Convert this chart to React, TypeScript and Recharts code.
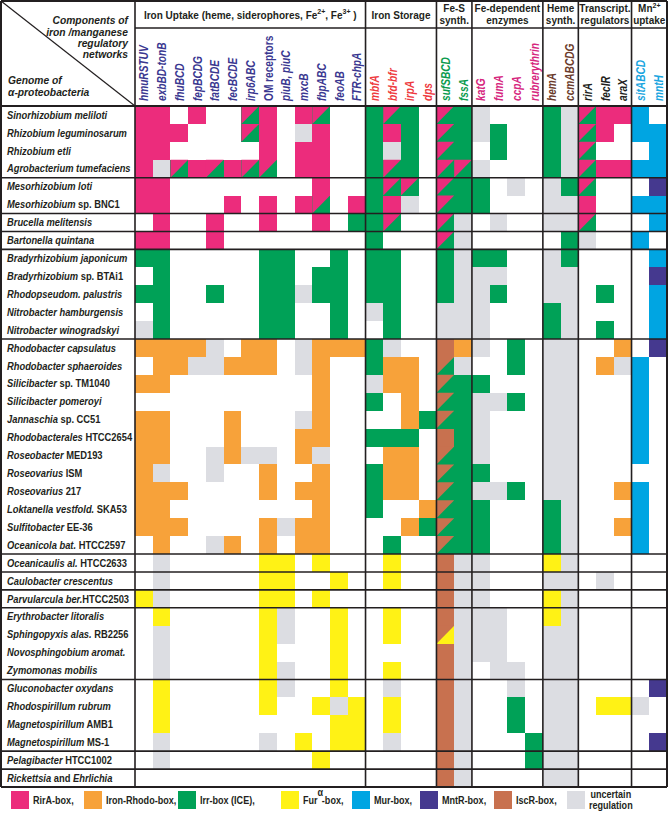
import { ReferenceLine, Scatter, ScatterChart, XAxis, YAxis } from "recharts";

// ---- data -----------------------------------------------------------------

/** Genome names; text between asterisks is set in italics. */
const GENOMES = [
  "*Sinorhizobium meliloti*",
  "*Rhizobium leguminosarum*",
  "*Rhizobium etli*",
  "*Agrobacterium tumefaciens*",
  "*Mesorhizobium loti*",
  "*Mesorhizobium* sp. BNC1",
  "*Brucella melitensis*",
  "*Bartonella quintana*",
  "*Bradyrhizobium japonicum*",
  "*Bradyrhizobium* sp. BTAi1",
  "*Rhodopseudom. palustris*",
  "*Nitrobacter hamburgensis*",
  "*Nitrobacter winogradskyi*",
  "*Rhodobacter capsulatus*",
  "*Rhodobacter sphaeroides*",
  "*Silicibacter* sp. TM1040",
  "*Silicibacter pomeroyi*",
  "*Jannaschia* sp. CC51",
  "*Rhodobacterales* HTCC2654",
  "*Roseobacter* MED193",
  "*Roseovarius* ISM",
  "*Roseovarius* 217",
  "*Loktanella vestfold.* SKA53",
  "*Sulfitobacter* EE-36",
  "*Oceanicola bat.* HTCC2597",
  "*Oceanicaulis al.* HTCC2633",
  "*Caulobacter crescentus*",
  "*Parvularcula ber.*HTCC2503",
  "*Erythrobacter litoralis*",
  "*Sphingopyxis alas.* RB2256",
  "*Novosphingobium aromat.*",
  "*Zymomonas mobilis*",
  "*Gluconobacter oxydans*",
  "*Rhodospirillum rubrum*",
  "*Magnetospirillum* AMB1",
  "*Magnetospirillum* MS-1",
  "*Pelagibacter* HTCC1002",
  "*Rickettsia* and *Ehrlichia*",
];

/** Genome blocks separated by horizontal rules. */
const GENOME_GROUP_SIZES = [4, 2, 1, 1, 5, 12, 1, 1, 1, 4, 4, 1, 1];

const GENES = [
  "hmuRSTUV", "exbBD-tonB", "fhuBCD", "fepBCDG", "fatBCDE", "fecBCDE",
  "irp6ABC", "OM receptors", "piuB, piuC", "mxcB", "fbpABC", "feoAB",
  "FTR-chpA",
  "mbfA", "bfd-bfr", "irpA", "dps",
  "sufSBCD", "fssA",
  "katG", "fumA", "ccpA", "rubrerythrin",
  "hemA", "ccmABCDG",
  "rirA", "fecIR", "araX",
  "sitABCD", "mntH",
];
const UPRIGHT_GENES = ["OM receptors"];

const GENE_GROUP_SIZES = [13, 4, 2, 4, 2, 3, 2];
/** {..} marks a superscript. */
const GENE_GROUP_TITLES = [
  ["Iron Uptake (heme, siderophores, Fe{2+}, Fe{3+} )"],
  ["Iron Storage"],
  ["Fe-S", "synth."],
  ["Fe-dependent", "enzymes"],
  ["Heme", "synth."],
  ["Transcript.", "regulators"],
  ["Mn{2+}", "uptake"],
];
const GENE_GROUP_COLORS = ["#3a3790", "#ee3a3e", "#0b9b4d", "#d6267e", "#6b3b2b", "#231f20", "#1aa5e0"];

/*
 * One string per genome, one token per gene column ('|' only splits groups).
 * r RirA, o Iron-Rhodo, g Irr, y Fur, b Mur, m MntR, i IscR, u uncertain,
 * '.' none. Two letters = diagonal split (upper-left, lower-right).
 */
const CELLS = [
  "r r . r . . rg r . r rg . . | g rg g . | rg g | u . . . | g u | rg r r | b .",
  "r r r . . . rg r . u r . . | g r g . | rg g | u g . . | g u | rg r . | b b",
  "r r . . . . . r . r r . . | g u g . | rg g | . g . . | g u | rg . . | . b",
  "r u rg r rg r rg rg . r r . . | g rg g . | rg rg | u . . . | g u | rg r r | b b",
  "r r . . . . . . . . r . . | g rg rg . | rg g | g . u . | u g | rg . . | . m",
  "r r . . . r . r . r rg . r | g r u . | rg g | g . . . | u u | r . . | b b",
  ". r . . r . . r . . r . g | g rg . . | rg u | . u . . | u u | rg . . | . b",
  "r r . . r . . . . . . . . | g . . . | rg u | . . . . | . g | u . . | b .",
  "g g . . . . . g g . . g . | g g . . | g u | g g . . | u g | . . . | . b",
  ". g . . . . . g g . g g . | g g . . | g u | u u . . | u u | . . . | . m",
  "g g . . g . . g g u g g . | g g . . | g u | u g . . | u u | . g . | . b",
  ". g . . . . . g g . . g . | u g . . | u u | u . . . | g u | . . . | . b",
  "u g . . . . . g g . . g . | . g . . | u u | u . . . | g u | . g . | . b",
  "o o o o u . o o . u o o o | g u . . | i o | u . g . | u u | . . o | . m",
  ". o o u u o o o . u o . . | g o o . | ig u | . . g . | u u | . o u | b .",
  "o o . . . . . . . . o . . | u o o . | ig g | g . . . | u u | . . . | b .",
  ". . . . . . . . . . o . . | g . o . | ig g | u u g . | u u | . . . | b .",
  "o o . . . o . . . u o . . | . . o g | ig g | u . . . | u u | . . . | b .",
  "o o . . . o . . . o o . . | g g g . | i g | u . . . | u u | . . . | b .",
  "o o . . u o u u . o u . . | . o o . | ig g | u . . . | u u | . . . | b .",
  "o u . . u . . o . . o . . | g o o . | ig g | g . . . | u u | . . . | . .",
  "o o o . . . . o . o o . . | g o o . | ig g | u u g . | u u | . . o | b .",
  "o o . . . . . . . . o . . | g . . o | ig g | g . . . | g u | . . . | b .",
  "o o o . . . . o u o o . . | . . o g | ig g | g . . . | g u | . . o | b .",
  ". o . . u o . o . o o . . | . g . . | ig g | g . . . | g u | . . . | b .",
  ". u . . . . . y y . y . . | . y . . | i u | u . . . | y u | . . . | . .",
  ". u . . . . . y y . . y . | . y . . | i u | u . . . | u u | . u . | . .",
  "y u . . . . . y y . y . . | . . . . | i u | u . . . | y u | . . . | . .",
  ". y . . . . . y u . . y . | . y . . | i u | u u . . | y u | . . . | . .",
  ". u . . . . . y u . . y . | . y . . | iy u | u u . . | u u | . . . | . .",
  ". u . . . . . y . . . y . | . . . . | i u | u u . . | u u | . . . | . .",
  ". u . . . . . y u . . y . | . y . . | i u | . u u . | u u | . . . | . .",
  ". y . . . . . y u . . y . | . u . . | i u | . . u . | u u | . . . | . m",
  ". y . . . . . y . . y u y | . y . . | i u | . . g . | u u | . y y | u .",
  ". y . . . . . . . . . y y | . y . . | i u | . . g . | u u | . . . | . .",
  ". u . . . . . u . y . y y | . u . . | i u | . . . g | u u | . . . | . m",
  ". u . . . . . . . . y . . | . . . . | i u | . . . g | u u | . . . | . .",
  ". . . . . . . . . . . . . | . . . . | i u | . . . . | u u | . . . | . .",
];

const BOX_KEYS = ["r", "o", "g", "y", "b", "m", "i", "u"];
const BOX_LABELS = [
  "RirA-box,", "Iron-Rhodo-box,", "Irr-box (ICE),", "Fur -box,",
  "Mur-box,", "MntR-box,", "IscR-box,", "uncertain regulation",
];
const BOX_COLORS: Record<string, string> = {
  r: "#ec2c7c",
  o: "#f7a23a",
  g: "#00a157",
  y: "#fff215",
  b: "#00a5e2",
  m: "#45398f",
  i: "#c8714f",
  u: "#dcdde2",
};

// ---- layout ---------------------------------------------------------------

const CHART_W = 669;
const CHART_H = 789;
const GRID_LEFT = 135; // px where the first gene column starts
const GRID_TOP = 106; // px where the first genome row starts
const NCOL = GENES.length;
const NROW = GENOMES.length;
const COL_PX = (667 - GRID_LEFT) / NCOL;
const ROW_PX = (787 - GRID_TOP) / NROW;
const X_MIN = -(GRID_LEFT - 1) / COL_PX;
const Y_MIN = -(GRID_TOP - 1) / ROW_PX;
const TITLE_BOTTOM = (28 - GRID_TOP) / ROW_PX;

const INK = "#231f20";
const FONT = '"Liberation Sans", Arial, sans-serif';

const pxX = (px: number) => (px - GRID_LEFT) / COL_PX;
const pxY = (px: number) => (px - GRID_TOP) / ROW_PX;

const cellData = CELLS.flatMap((row, r) =>
  row
    .replace(/\|/g, " ")
    .trim()
    .split(/\s+/)
    .map((code, c) => ({ x: c + 0.5, y: r + 0.5, code }))
    .filter((d) => d.code !== "."),
);

const groupOf: number[] = GENE_GROUP_SIZES.flatMap((n, g) => Array(n).fill(g));
const groupStarts = GENE_GROUP_SIZES.map((_, g) =>
  GENE_GROUP_SIZES.slice(0, g).reduce((a, b) => a + b, 0),
);

const geneData = GENES.map((name, i) => ({
  x: i + 0.5,
  y: pxY(101),
  name,
  color: GENE_GROUP_COLORS[groupOf[i]],
}));

const titleData = GENE_GROUP_TITLES.map((lines, g) => ({
  x: groupStarts[g] + GENE_GROUP_SIZES[g] / 2,
  y: pxY(14.5),
  lines,
}));

const genomeData = GENOMES.map((label, i) => ({ x: pxX(7), y: i + 0.5, label }));

const genomeRules = GENOME_GROUP_SIZES.slice(0, -1).map((_, g) =>
  GENOME_GROUP_SIZES.slice(0, g + 1).reduce((a, b) => a + b, 0),
);

const cornerData = [
  { x: pxX(128), y: pxY(24), text: "Components of", anchor: "end" },
  { x: pxX(128), y: pxY(35.5), text: "iron /manganese", anchor: "end" },
  { x: pxX(128), y: pxY(46.5), text: "regulatory", anchor: "end" },
  { x: pxX(128), y: pxY(57.5), text: "networks", anchor: "end" },
  { x: pxX(8), y: pxY(84), text: "Genome of", anchor: "start" },
  { x: pxX(8), y: pxY(96), text: "α-proteobacteria", anchor: "start" },
];

const LEGEND_LEFTS = [11, 84, 178, 281, 352, 420, 494, 567];

// ---- shapes ---------------------------------------------------------------

function richText(s: string, sup: number) {
  const parts = s.split(/\{([^}]*)\}/);
  return parts.map((p, i) => {
    if (!p) return null;
    if (i % 2) {
      return (
        <tspan key={i} dy={-4.5} fontSize={sup}>
          {p}
        </tspan>
      );
    }
    return (
      <tspan key={i} dy={i > 0 ? 4.5 : 0}>
        {p}
      </tspan>
    );
  });
}

function CellShape(props: any) {
  const { cx, cy, payload } = props;
  const x0 = cx - COL_PX / 2;
  const y0 = cy - ROW_PX / 2;
  const x1 = cx + COL_PX / 2;
  const y1 = cy + ROW_PX / 2;
  const code: string = payload.code;
  const base = code.length > 1 ? code[1] : code[0];
  return (
    <g>
      <rect
        x={x0}
        y={y0}
        width={COL_PX}
        height={ROW_PX}
        fill={BOX_COLORS[base]}
        shapeRendering="crispEdges"
      />
      {code.length > 1 && (
        <polygon points={`${x0},${y0} ${x1},${y0} ${x0},${y1}`} fill={BOX_COLORS[code[0]]} />
      )}
    </g>
  );
}

function GeneLabel(props: any) {
  const { cx, cy, payload } = props;
  return (
    <text
      transform={`translate(${cx + 4.6},${cy}) rotate(-90) scale(0.78,1)`}
      fontFamily={FONT}
      fontSize={13}
      fontWeight="bold"
      fontStyle={UPRIGHT_GENES.includes(payload.name) ? "normal" : "italic"}
      fill={payload.color}
    >
      {payload.name}
    </text>
  );
}

function GroupTitle(props: any) {
  const { cx, cy, payload } = props;
  const lines: string[] = payload.lines;
  const offsets = lines.length === 1 ? [4] : [-2.5, 9];
  return (
    <g>
      {lines.map((line, i) => (
        <text
          key={i}
          x={cx}
          y={cy + offsets[i]}
          textAnchor="middle"
          fontFamily={FONT}
          fontSize={10}
          fontWeight="bold"
          fill={INK}
        >
          {richText(line, 7)}
        </text>
      ))}
    </g>
  );
}

function GenomeLabel(props: any) {
  const { cx, cy, payload } = props;
  const parts: string[] = payload.label.split("*");
  return (
    <text
      transform={`translate(${cx},${cy + 3.7}) scale(0.9,1)`}
      fontFamily={FONT}
      fontSize={10.4}
      fontWeight="bold"
      fill={INK}
      style={{ whiteSpace: "pre" }}
    >
      {parts.map((p, i) =>
        p ? (
          <tspan key={i} fontStyle={i % 2 ? "italic" : "normal"}>
            {p}
          </tspan>
        ) : null,
      )}
    </text>
  );
}

function CornerText(props: any) {
  const { cx, cy, payload } = props;
  return (
    <text
      x={cx}
      y={cy}
      textAnchor={payload.anchor}
      fontFamily={FONT}
      fontSize={10.3}
      fontWeight="bold"
      fontStyle="italic"
      fill={INK}
    >
      {payload.text}
    </text>
  );
}

function BoxLegend() {
  return (
    <div
      style={{
        position: "relative",
        width: CHART_W,
        height: 25,
        fontFamily: FONT,
        fontWeight: "bold",
        fontSize: 10.5,
        color: INK,
      }}
    >
      {BOX_KEYS.map((k, i) => (
        <div
          key={k}
          style={{
            position: "absolute",
            left: LEGEND_LEFTS[i],
            top: 2,
            height: 18,
            display: "flex",
            alignItems: "center",
            gap: 4,
            whiteSpace: "nowrap",
          }}
        >
          <span style={{ width: 18, height: 18, background: BOX_COLORS[k], flex: "none" }} />
          <span
            style={{
              display: "inline-block",
              transform: "scaleX(0.86)",
              transformOrigin: "left center",
              textAlign: "center",
              lineHeight: k === "u" ? "11px" : undefined,
            }}
          >
            {k === "y" ? (
              <>
                Fur
                <span style={{ display: "inline-block", width: 5, position: "relative", top: -8 }}>α</span>
                -box,
              </>
            ) : k === "u" ? (
              <>
                uncertain
                <br />
                regulation
              </>
            ) : (
              BOX_LABELS[i]
            )}
          </span>
        </div>
      ))}
    </div>
  );
}

// ---- chart ----------------------------------------------------------------

const ruleProps = { stroke: INK, strokeWidth: 1.6, zIndex: 700 } as any;

export default function App() {
  return (
    <div style={{ width: CHART_W, background: "#fff" }}>
      <style>{"body{margin:0;background:#fff}"}</style>
      <ScatterChart
        width={CHART_W}
        height={CHART_H}
        margin={{ top: 1, right: 2, bottom: 2, left: 1 }}
      >
        <XAxis type="number" dataKey="x" domain={[X_MIN, NCOL]} hide allowDataOverflow />
        <YAxis type="number" dataKey="y" domain={[Y_MIN, NROW]} reversed hide allowDataOverflow />

        <Scatter data={cellData} shape={CellShape} isAnimationActive={false} />

        {/* header: diagonal in the corner cell and the title row rule */}
        <ReferenceLine
          segment={[{ x: X_MIN, y: Y_MIN }, { x: 0, y: 0 }]}
          stroke={INK}
          strokeWidth={1.2}
          zIndex={700}
        />
        <ReferenceLine segment={[{ x: 0, y: TITLE_BOTTOM }, { x: NCOL, y: TITLE_BOTTOM }]} {...ruleProps} />
        <ReferenceLine y={0} {...ruleProps} strokeWidth={2} />

        {/* column group separators */}
        {[0, ...groupStarts.slice(1)].map((x) => (
          <ReferenceLine key={`v${x}`} x={x} {...ruleProps} />
        ))}
        {/* genome group separators */}
        {genomeRules.map((y) => (
          <ReferenceLine key={`h${y}`} y={y} {...ruleProps} />
        ))}
        {/* outer frame */}
        <ReferenceLine x={X_MIN} {...ruleProps} strokeWidth={2} />
        <ReferenceLine x={NCOL} {...ruleProps} strokeWidth={2} />
        <ReferenceLine y={Y_MIN} {...ruleProps} strokeWidth={2} />
        <ReferenceLine y={NROW} {...ruleProps} strokeWidth={2} />

        <Scatter data={geneData} shape={GeneLabel} isAnimationActive={false} />
        <Scatter data={titleData} shape={GroupTitle} isAnimationActive={false} />
        <Scatter data={genomeData} shape={GenomeLabel} isAnimationActive={false} />
        <Scatter data={cornerData} shape={CornerText} isAnimationActive={false} />
      </ScatterChart>
      <BoxLegend />
    </div>
  );
}
